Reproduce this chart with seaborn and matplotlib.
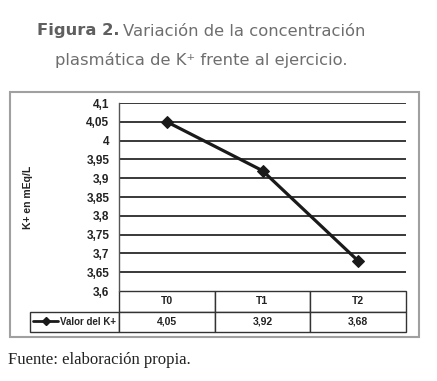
import matplotlib
matplotlib.use('Agg')
import matplotlib.pyplot as plt
from matplotlib.lines import Line2D
from matplotlib.patches import Rectangle
import seaborn as sns
import pandas as pd

# values
times = ['T0', 'T1', 'T2']
k_values = [4.05, 3.92, 3.68]
k_labels = ['4,05', '3,92', '3,68']
y_ticks = [3.6, 3.65, 3.7, 3.75, 3.8, 3.85, 3.9, 3.95, 4.0, 4.05, 4.1]
y_tick_labels = ['3,6', '3,65', '3,7', '3,75', '3,8', '3,85', '3,9', '3,95', '4', '4,05', '4,1']

df = pd.DataFrame({'tiempo': times, 'k': k_values})

sns.set_style('white')
plt.rcParams['font.family'] = ['Liberation Sans', 'DejaVu Sans']

W, H = 437, 381
fig = plt.figure(figsize=(W / 100, H / 100), dpi=100)
fig.patch.set_facecolor('white')

# plot area in pixel coordinates of the reference
left, right, top, bottom = 119, 406, 103, 291
ax = fig.add_axes([left / W, 1 - bottom / H, (right - left) / W, (bottom - top) / H])

sns.lineplot(data=df, x='tiempo', y='k', ax=ax, color='#1a1a1a', linewidth=2.3,
             marker='D', markersize=6, markeredgecolor='#1a1a1a', sort=False)

ax.set_xlim(-0.5, 2.5)
ax.set_ylim(3.6, 4.1)
ax.set_yticks(y_ticks)
ax.set_yticklabels(y_tick_labels, fontsize=8.5, fontweight='bold', color='#222222')
ax.set_xticks([])
ax.set_xlabel('')
ax.set_ylabel('K+ en mEq/L', fontsize=7.5, fontweight='bold', color='#222222')
ax.yaxis.set_label_coords((33 - left) / (right - left), 0.5)
ax.tick_params(axis='y', length=0, pad=7)
for y in y_ticks[1:]:
    ax.axhline(y, color='#2a2a2a', linewidth=1.3, zorder=0)
for s in ['top', 'right', 'bottom']:
    ax.spines[s].set_visible(False)
ax.spines['left'].set_color('#555555')
ax.spines['left'].set_linewidth(1.0)

# data table under the plot
leg_left = 30
row_h = (332 - 291) / 2
tbl_w = (406 - leg_left) / (right - left)
tbl = ax.table(cellText=[[''] + times, [''] + k_labels],
               colWidths=[89, 96, 96, 96],
               bbox=[(leg_left - left) / (right - left), -(332 - 291) / (bottom - top),
                     tbl_w, (332 - 291) / (bottom - top)],
               cellLoc='center')
tbl.auto_set_font_size(False)
for (r, c), cell in tbl.get_celld().items():
    cell.set_edgecolor('#333333')
    cell.set_linewidth(1.0)
    cell.get_text().set_fontsize(7.5)
    cell.get_text().set_fontweight('bold')
    cell.get_text().set_color('#222222')
tbl[0, 0].visible_edges = ''

# legend inside the first cell of the second row
handle = Line2D([], [], color='#1a1a1a', linewidth=2.0, marker='D', markersize=4)
leg_cx = ((leg_left + 119) / 2 - left) / (right - left)
leg_cy = -(332 - 291 - row_h / 2) / (bottom - top)
ax.legend([handle], ['Valor del K+'], loc='center', bbox_to_anchor=(leg_cx, leg_cy),
          frameon=False, handlelength=2.6, handletextpad=0.2,
          borderpad=0, prop={'weight': 'bold', 'size': 7})

# outer frame
fig.patches.append(Rectangle((10 / W, 1 - 337 / H), 409 / W, 245 / H, transform=fig.transFigure,
                             fill=False, edgecolor='#a0a0a0', linewidth=1.5))

# title
fig.text(37 / W, 1 - 31 / H, 'Figura 2.', ha='left', va='center', fontsize=11.8,
         fontweight='bold', color='#5f5f5f', family=['DejaVu Sans'])
fig.text(123 / W, 1 - 31 / H, 'Variación de la concentración', ha='left', va='center',
         fontsize=11.8, color='#6e6e6e', family=['DejaVu Sans'])
fig.text(201 / W, 1 - 60 / H, 'plasmática de K⁺ frente al ejercicio.', ha='center', va='center',
         fontsize=11.8, color='#6e6e6e', family=['DejaVu Sans'])

fig.text(8 / W, 1 - 360 / H, 'Fuente: elaboración propia.', ha='left', va='center',
         fontsize=12, color='#222222', family=['Liberation Serif'])

fig.savefig('out.png', dpi=100)
